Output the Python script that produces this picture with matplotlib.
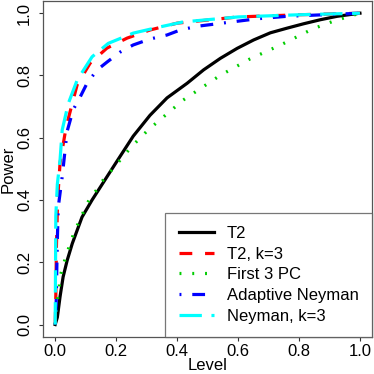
"""Power vs level curves for five tests."""
import matplotlib
matplotlib.use("Agg")
import matplotlib.pyplot as plt

plt.rcParams["font.family"] = ["Liberation Sans", "DejaVu Sans"]

t2_level = [0, 0.007, 0.016, 0.026, 0.039, 0.056, 0.088, 0.121, 0.18, 0.203, 0.256,
            0.311, 0.367, 0.433, 0.487, 0.542, 0.597, 0.651, 0.706, 0.761, 0.815,
            0.870, 0.925, 1.0]
t2_power = [0, 0.023, 0.09, 0.153, 0.205, 0.26, 0.345, 0.40, 0.49, 0.525, 0.605,
            0.672, 0.728, 0.775, 0.818, 0.855, 0.887, 0.914, 0.937, 0.952, 0.966,
            0.979, 0.99, 1.0]

t2k_level = [0, 0.002, 0.004, 0.008, 0.016, 0.036, 0.072, 0.115, 0.17, 0.236, 0.311,
             0.4, 0.6, 0.8, 1.0]
t2k_power = [0, 0.09, 0.25, 0.40, 0.52, 0.635, 0.77, 0.84, 0.888, 0.92, 0.946,
             0.968, 0.988, 0.995, 1.0]

pc_level = [0, 0.007, 0.013, 0.016, 0.026, 0.039, 0.049, 0.062, 0.079, 0.095, 0.111,
            0.134, 0.154, 0.18, 0.252, 0.305, 0.42, 0.449, 0.541, 0.639, 0.744,
            0.846, 0.915, 1.0]
pc_power = [0, 0.078, 0.117, 0.153, 0.19, 0.23, 0.26, 0.296, 0.332, 0.367, 0.40,
            0.43, 0.46, 0.49, 0.573, 0.625, 0.721, 0.74, 0.80, 0.853, 0.90,
            0.95, 0.975, 1.0]

an_level = [0, 0.003, 0.007, 0.01, 0.023, 0.039, 0.059, 0.082, 0.105, 0.138, 0.17,
            0.213, 0.256, 0.311, 0.367, 0.41, 0.466, 0.564, 0.662, 0.76, 1.0]
an_power = [0, 0.06, 0.27, 0.377, 0.475, 0.62, 0.69, 0.731, 0.776, 0.818, 0.843,
            0.875, 0.898, 0.917, 0.93, 0.946, 0.958, 0.97, 0.982, 0.99, 1.0]

nk_level = [0, 0.002, 0.007, 0.016, 0.023, 0.043, 0.072, 0.121, 0.174, 0.256, 0.344,
            0.42, 0.6, 0.8, 1.0]
nk_power = [0, 0.35, 0.45, 0.53, 0.625, 0.71, 0.785, 0.86, 0.903, 0.936, 0.956,
            0.972, 0.988, 0.995, 1.0]

ticks = [0.0, 0.2, 0.4, 0.6, 0.8, 1.0]

fig = plt.figure(figsize=(3.74, 3.74), dpi=100)
ax = fig.add_axes([0.115, 0.099, 0.88, 0.899])

lw = 2.3
ax.plot(t2_level, t2_power, color="black", lw=lw, label="T2")
ax.plot(t2k_level, t2k_power, color="#ff0000", lw=lw, ls=(0, (4, 4)), label="T2, k=3")
ax.plot(pc_level, pc_power, color="#00cd00", lw=lw, ls=(0, (0.6, 3.4)),
        label="First 3 PC")
ax.plot(an_level, an_power, color="#0000ff", lw=lw, ls=(0, (0.6, 3.4, 4, 3.4)),
        label="Adaptive Neyman")
ax.plot(nk_level, nk_power, color="#00ffff", lw=lw, ls=(0, (7, 3)), label="Neyman, k=3")

ax.set_xlim(-0.04, 1.04)
ax.set_ylim(-0.04, 1.04)
ax.set_xticks(ticks)
ax.set_yticks(ticks)
ax.set_xticklabels([f"{t:.1f}" for t in ticks])
ax.set_yticklabels([f"{t:.1f}" for t in ticks], rotation=90, va="center")
ax.tick_params(labelsize=12, length=3, width=0.8, color="#333333")
ax.tick_params(axis="x", pad=2)
ax.tick_params(axis="y", pad=5)
for s in ax.spines.values():
    s.set_color("#555555")
    s.set_linewidth(0.9)

ax.set_xlabel("Level", fontsize=12, labelpad=-1)
ax.set_ylabel("Power", fontsize=12, labelpad=1)

leg = ax.legend(loc="lower right", bbox_to_anchor=(1, 0), borderaxespad=0,
                fontsize=12, fancybox=False, handlelength=2.1, handletextpad=0.8,
                labelspacing=0.34, borderpad=0.8)
leg.get_frame().set_edgecolor("#555555")
leg.get_frame().set_linewidth(0.9)

fig.savefig("out.png", dpi=100)
